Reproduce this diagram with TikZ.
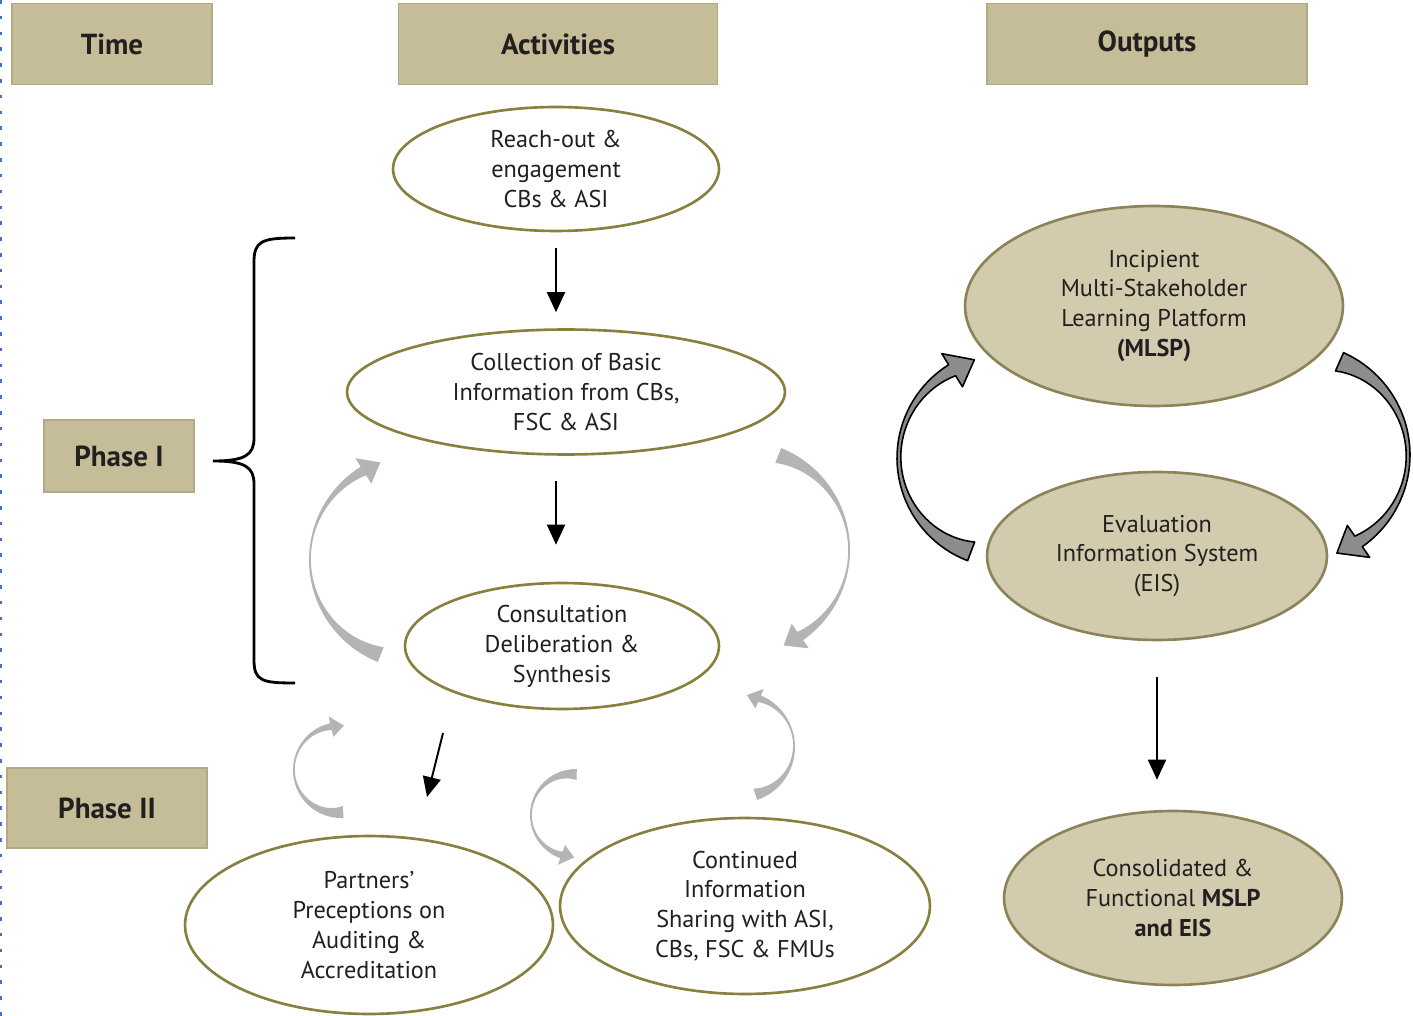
\documentclass[tikz,border=0pt]{standalone}
\usepackage{fontspec}
\setmainfont{PT Sans}
\usetikzlibrary{arrows.meta,shapes.geometric,positioning}
\definecolor{boxtan}{RGB}{197,189,151}
\definecolor{boxedge}{RGB}{178,170,132}
\definecolor{activeedge}{RGB}{135,128,62}
\definecolor{outtan}{RGB}{210,203,174}
\definecolor{outedge}{RGB}{140,132,88}
\definecolor{softgray}{RGB}{180,180,180}
\definecolor{hardgray}{RGB}{140,140,140}
\definecolor{inkgray}{RGB}{35,31,32}
\definecolor{pageblue}{RGB}{68,114,196}
\tikzset{
	headbox/.style={draw=boxedge, line width=0.8pt, fill=boxtan, inner sep=0pt,
		font=\fontsize{16.5}{19}\selectfont\bfseries, text=inkgray},
	actell/.style={ellipse, draw=activeedge, line width=1.5pt, fill=white, inner sep=0pt,
		align=center, text=inkgray, font=\fontsize{13.8}{17}\selectfont},
	outell/.style={actell, draw=outedge, fill=outtan},
	flow/.style={-{Triangle[width=0.36cm,length=0.4cm]}, line width=1.1pt},
	softarrow/.style={fill=softgray},
	hardarrow/.style={fill=hardgray, draw=black, line width=0.9pt, line join=round}
}
% bent arrow: centre x, centre y, radius, tail angle, head angle, tail/middle/head width
\newcommand{\bentarrow}[9][]{%
	\path[#1] plot[domain=0:1,samples=40,variable=\t]
		({#2+#4*cos(#5+(#6-(#5))*\t)},{#3+#4*sin(#5+(#6-(#5))*\t)})
		-- ({#2+(#4+#9)*cos(#6)},{#3+(#4+#9)*sin(#6)})
		-- ({#2+(#4-#9/2)*cos(#6+sign(#6-(#5))*115*#9/#4)},{#3+(#4-#9/2)*sin(#6+sign(#6-(#5))*115*#9/#4)})
		-- ({#2+(#4-2*#9)*cos(#6)},{#3+(#4-2*#9)*sin(#6)})
		-- plot[domain=1:0,samples=40,variable=\t]
		({#2+(#4-(#7*(1-\t)*(1-2*\t)+4*#8*\t*(1-\t)+#9*\t*(2*\t-1)))*cos(#5+(#6-(#5))*\t)},
		 {#3+(#4-(#7*(1-\t)*(1-2*\t)+4*#8*\t*(1-\t)+#9*\t*(2*\t-1)))*sin(#5+(#6-(#5))*\t)})
		-- cycle;}

\begin{document}
\begin{tikzpicture}[x=0.02cm, y=-0.02cm]
	\useasboundingbox (0,0) rectangle (1413,1016);
	\draw[pageblue, line width=1pt, dash pattern=on 2pt off 7pt] (1,0) -- (1,1016);
	% heads of the columns
	\node[headbox, minimum width=4cm, minimum height=1.62cm] (time) at (112,44) {Time};
	\node[headbox, minimum width=6.38cm, minimum height=1.62cm] (activities) at (558,44) {Activities};
	\node[headbox, minimum width=6.4cm, minimum height=1.62cm] (outputs) at (1147,44) {Outputs};
	\node[headbox, minimum width=3cm, minimum height=1.44cm] (phaseone) at (119,456) {Phase I};
	\node[headbox, minimum width=4cm, minimum height=1.6cm] (phasetwo) at (107,808) {Phase II};
	% activities
	\node[actell, minimum width=6.52cm, minimum height=2.48cm] (reach) at (556,169)
		{Reach-out \&\\engagement\\CBs \& ASI};
	\node[actell, minimum width=8.76cm, minimum height=2.5cm] (collect) at (566,392)
		{Collection of Basic\\Information from CBs,\\FSC \& ASI};
	\node[actell, minimum width=6.28cm, minimum height=2.52cm] (consult) at (562,646)
		{Consultation\\Deliberation \&\\Synthesis};
	\node[actell, minimum width=7.36cm, minimum height=3.56cm] (partners) at (369,925)
		{Partners'\\Preceptions on\\Auditing \&\\Accreditation};
	\node[actell, minimum width=7.4cm, minimum height=3.52cm] (continued) at (745,906)
		{Continued\\Information\\Sharing with ASI,\\CBs, FSC \& FMUs};
	% outputs
	\node[outell, minimum width=7.56cm, minimum height=4cm] (incipient) at (1154,306)
		{Incipient\\Multi-Stakeholder\\Learning Platform\\\textbf{(MLSP)}};
	\node[outell, minimum width=6.8cm, minimum height=3.36cm] (evaluation) at (1157,556)
		{Evaluation\\Information System\\(EIS)};
	\node[outell, minimum width=6.76cm, minimum height=3.48cm] (consolidated) at (1173,898)
		{Consolidated \&\\Functional \textbf{MSLP}\\\textbf{and EIS}};
	% phase I brace
	\draw[line width=1.6pt] (295,238) .. controls (262,238) and (254,241) .. (254,262) -- (254,438)
		.. controls (254,455) and (245,461) .. (213,461) .. controls (245,461) and (254,467) .. (254,484)
		-- (254,660) .. controls (254,681) and (262,683) .. (295,683);
	% straight arrows
	\draw[flow, shorten <=0.32cm, shorten >=0.32cm] (reach.south) -- (reach.south |- collect.north);
	\draw[flow, shorten <=0.5cm, shorten >=0.74cm] (reach.south |- collect.south) -- (reach.south |- consult.north);
	\coordinate (dropa) at (443,733);
	\coordinate (dropb) at (427,797);
	\draw[flow] (dropa) -- (dropb);
	\draw[flow, shorten <=0.72cm, shorten >=0.6cm] (evaluation.south) -- (evaluation.south |- consolidated.north);
	% feedback loops
	\bentarrow[softarrow]{419}{560}{110}{112}{238}{16}{2}{10}
	\bentarrow[softarrow]{740}{550}{110}{-68}{55}{16}{2}{10}
	\bentarrow[softarrow]{341}{770}{48}{87}{257}{12}{2}{7}
	\bentarrow[softarrow]{576}{815}{46}{271}{110}{11}{2}{7}
	\bentarrow[softarrow]{739}{747}{56}{71}{-67}{12}{2}{7}
	\bentarrow[hardarrow]{1007}{458}{110}{111}{238}{20}{4}{13}
	\bentarrow[hardarrow]{1298}{455}{112}{-66}{55}{20}{4}{13}
\end{tikzpicture}
\end{document}
